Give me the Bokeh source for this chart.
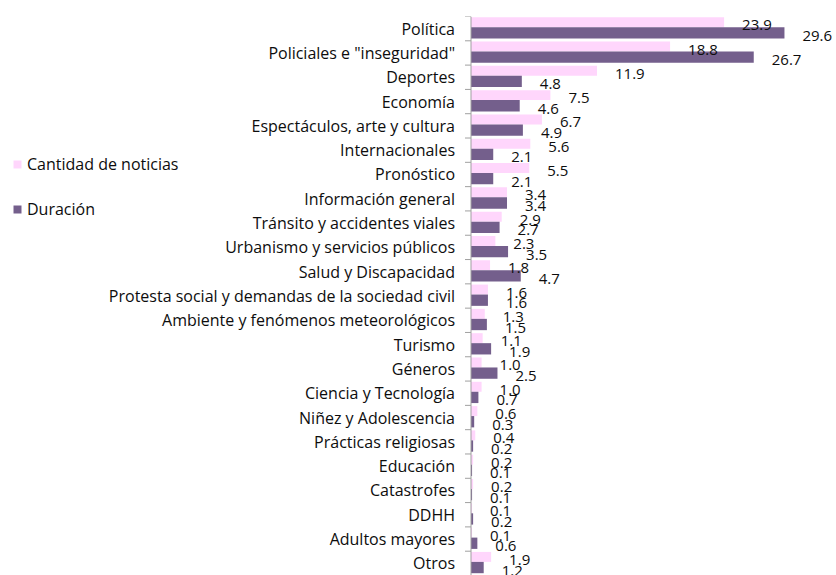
from bokeh.plotting import figure
from bokeh.models import Range1d, Legend, LegendItem, ColumnDataSource, Span
from bokeh.transform import dodge
from bokeh.core.properties import value
from bokeh.embed import file_html
from bokeh.resources import INLINE

categories = [
    "Política", 'Policiales e "inseguridad"', "Deportes", "Economía",
    "Espectáculos, arte y cultura", "Internacionales", "Pronóstico",
    "Información general", "Tránsito y accidentes viales",
    "Urbanismo y servicios públicos", "Salud y Discapacidad",
    "Protesta social y demandas de la sociedad civil",
    "Ambiente y fenómenos meteorológicos", "Turismo", "Géneros",
    "Ciencia y Tecnología", "Niñez y Adolescencia", "Prácticas religiosas",
    "Educación", "Catastrofes", "DDHH", "Adultos mayores", "Otros",
]
cantidad = [23.9, 18.8, 11.9, 7.5, 6.7, 5.6, 5.5, 3.4, 2.9, 2.3, 1.8, 1.6, 1.3,
            1.1, 1.0, 1.0, 0.6, 0.4, 0.2, 0.2, 0.1, 0.1, 1.9]
duracion = [29.6, 26.7, 4.8, 4.6, 4.9, 2.1, 2.1, 3.4, 2.7, 3.5, 4.7, 1.6, 1.5,
            1.9, 2.5, 0.7, 0.3, 0.2, 0.1, 0.1, 0.2, 0.6, 1.2]
series_names = ["Cantidad de noticias", "Duración"]

PINK = "#FFD6FC"
PURPLE = "#745F8C"
GRAY = "#A0A0A0"
TEXT = "#0d0d0d"
FONT = "Open Sans"

W, H = 836, 575
ZERO_PX = 470.5          # pixel position of the value axis origin
SCALE = 10.59            # pixels per unit
TOP = 16

n = len(categories)
ypos = list(range(n))
src = ColumnDataSource(dict(
    y=ypos, cat=categories, cantidad=cantidad, duracion=duracion,
    zero=[0] * n,
    cantidad_lbl=[f"{v:.1f}" for v in cantidad],
    duracion_lbl=[f"{v:.1f}" for v in duracion],
))

p = figure(width=W, height=H, output_backend="svg", toolbar_location=None,
           x_range=Range1d(-ZERO_PX / SCALE, (W - ZERO_PX) / SCALE),
           y_range=Range1d(n - 0.5, -0.5),
           x_axis_type=None, y_axis_type=None,
           min_border_left=0, min_border_right=0,
           min_border_top=TOP, min_border_bottom=0,
           outline_line_color=None)
p.grid.visible = False

r1 = p.hbar(y=dodge("y", -0.265), left=0, right="cantidad", height=0.41,
            source=src, fill_color=PINK, line_color=None)
r2 = p.hbar(y=dodge("y", 0.173), left=0, right="duracion", height=0.465,
            source=src, fill_color=PURPLE, line_color=None)

# value labels
p.text(x="cantidad", y=dodge("y", -0.265), text="cantidad_lbl", source=src,
       x_offset=18, y_offset=3, text_align="left", text_baseline="middle",
       text_font=value(FONT), text_font_size="15px", text_color=TEXT)
p.text(x="duracion", y=dodge("y", 0.173), text="duracion_lbl", source=src,
       x_offset=18, y_offset=3, text_align="left", text_baseline="middle",
       text_font=value(FONT), text_font_size="15px", text_color=TEXT)

# category axis: line, boundary ticks, labels
p.add_layout(Span(location=0, dimension="height", line_color=GRAY, line_width=1))
bounds = [i - 0.5 for i in range(n + 1)]
tick_len = 6 / SCALE
p.segment(x0=[0] * len(bounds), x1=[-tick_len] * len(bounds), y0=bounds, y1=bounds,
          line_color=GRAY, line_width=1)
p.text(x="zero", y="y", text="cat", source=src, x_offset=-16,
       text_align="right", text_baseline="middle",
       text_font=value(FONT), text_font_size="16px", text_color=TEXT)

legend = Legend(items=[LegendItem(label=series_names[0], renderers=[r1]),
                       LegendItem(label=series_names[1], renderers=[r2])],
                location=(12, 355), orientation="vertical",
                glyph_width=10, glyph_height=10, label_standoff=5,
                spacing=23, padding=0, margin=0, border_line_color=None,
                background_fill_alpha=0, label_text_font=FONT,
                label_text_font_size="16px", label_text_color=TEXT,
                label_height=20)
p.add_layout(legend)

open("out.html", "w").write(file_html(p, INLINE))
